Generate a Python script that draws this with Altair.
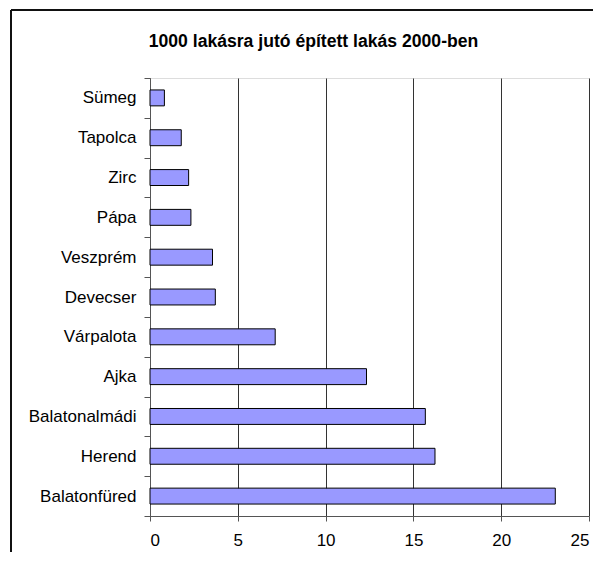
import altair as alt
import pandas as pd

towns = ["Sümeg", "Tapolca", "Zirc", "Pápa", "Veszprém", "Devecser",
         "Várpalota", "Ajka", "Balatonalmádi", "Herend", "Balatonfüred"]
values = [0.82, 1.78, 2.2, 2.33, 3.56, 3.72, 7.13, 12.33, 15.68, 16.23, 23.08]
x_ticks = [0, 5, 10, 15, 20, 25]
title_text = "1000 lakásra jutó épített lakás 2000-ben"

df = pd.DataFrame({"town": towns, "value": values})
FONT = "Liberation Sans"

bars = alt.Chart(df).mark_bar(
    color="#9999FF", stroke="#000000", strokeWidth=1,
    height={"band": 0.4}
).encode(
    x=alt.X("value:Q",
            scale=alt.Scale(domain=[0, 25], nice=False, zero=True),
            axis=alt.Axis(values=x_ticks, title=None, grid=True,
                          gridColor="#333333", gridWidth=1,
                          domainColor="#555555", tickColor="#555555",
                          tickSize=5, labelPadding=11, labelFontSize=17,
                          labelFont=FONT, labelColor="#000000")),
    y=alt.Y("town:N", sort=towns,
            scale=alt.Scale(paddingInner=0, paddingOuter=0),
            axis=alt.Axis(title=None, tickBand="extent", tickSize=6,
                          tickColor="#555555", domainColor="#555555",
                          labelPadding=8, labelFontSize=17, labelFont=FONT,
                          labelColor="#000000", grid=False)),
)

frame_left = alt.Chart(df).mark_rule(color="#111111", strokeWidth=2).encode(
    x=alt.value(-139), y=alt.value(-68), y2=alt.value(520))
frame_top = alt.Chart(df).mark_rule(color="#111111", strokeWidth=2).encode(
    x=alt.value(-139), x2=alt.value(460), y=alt.value(-68))

chart = alt.layer(bars, frame_left, frame_top).properties(
    width=439, height=438,
    autosize=alt.AutoSizeParams(type="none"),
    padding={"left": 142, "top": 70, "right": 4, "bottom": 36},
    title=alt.Title(title_text, font=FONT, fontSize=17.6, fontWeight="bold",
                    anchor="middle", dx=-56, offset=-56, baseline="alphabetic",
                    color="#000000"),
).configure_view(stroke="#888888", strokeWidth=1).configure(background="white")

chart.save("out.html", embed_options={"renderer": "svg", "actions": False})
